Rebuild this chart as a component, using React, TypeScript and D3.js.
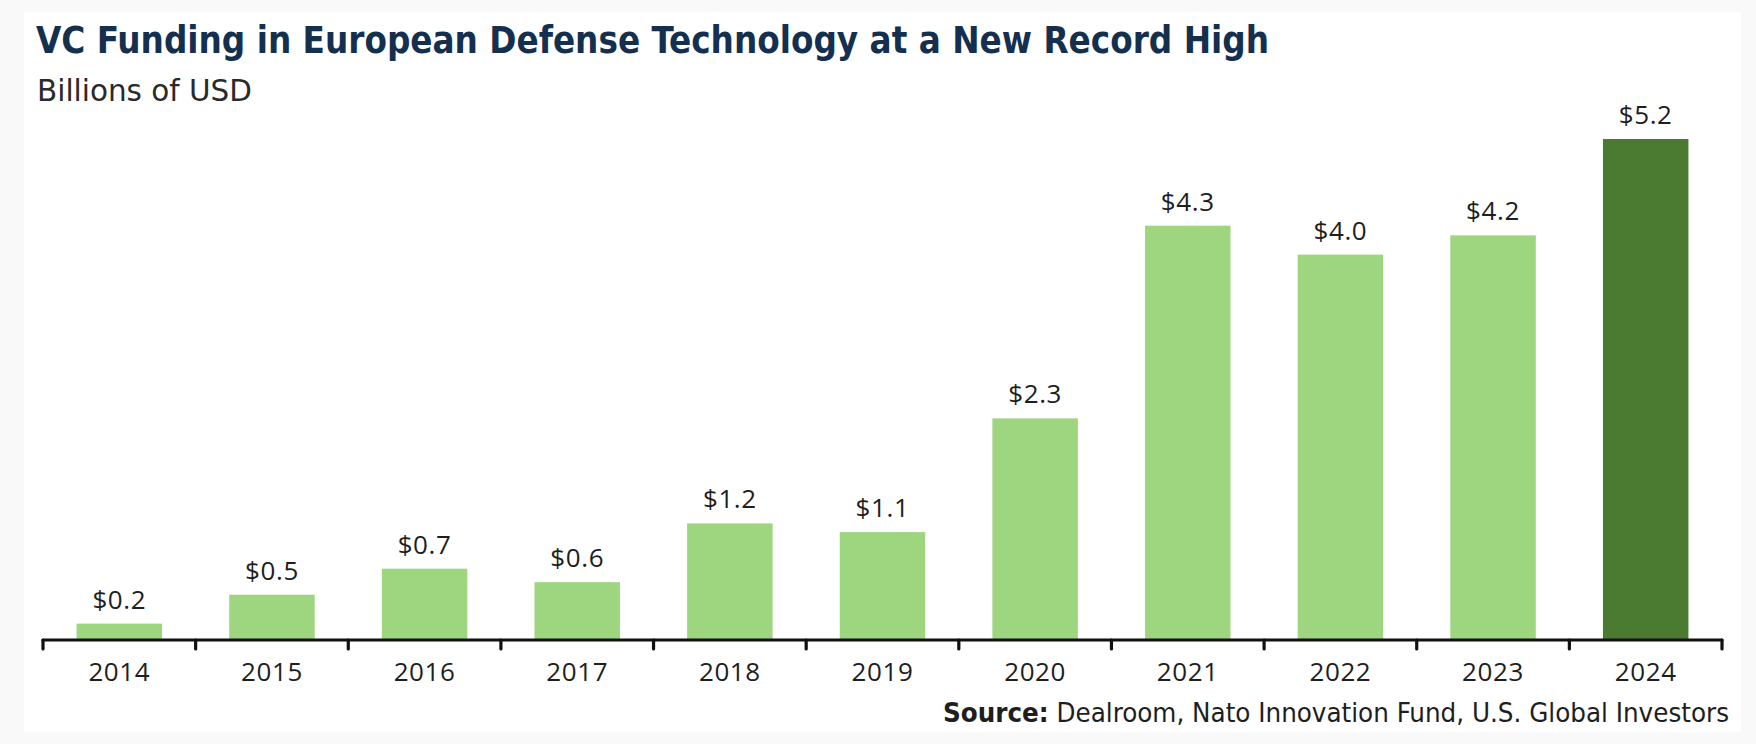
import React from "react";
import * as d3 from "d3";

const years = ["2014", "2015", "2016", "2017", "2018", "2019", "2020", "2021", "2022", "2023", "2024"];
const funding = [0.17, 0.47, 0.74, 0.6, 1.21, 1.12, 2.3, 4.3, 4.0, 4.2, 5.2];
const highlightYear = "2024";

const titleText = "VC Funding in European Defense Technology at a New Record High";
const subtitleText = "Billions of USD";
const sourceLabel = "Source:";
const sourceText = " Dealroom, Nato Innovation Fund, U.S. Global Investors";

const W = 1756;
const H = 744;

export default function App() {
  const axisY = 640;
  const x = d3.scaleBand<string>().domain(years).range([43, 1722]).paddingInner(0.44).paddingOuter(0.22);
  const y = d3.scaleLinear().domain([0, 5.2]).range([axisY, axisY - 501]);
  const fmt = d3.format("$.1f");
  const step = x.step();
  const tickXs = d3.range(years.length + 1).map((i) => 43 + i * step);

  const condensed = "'Liberation Sans Narrow', 'DejaVu Sans Condensed', Roboto, sans-serif";
  const body = "'Open Sans', 'Noto Sans', sans-serif";

  return (
    <svg width={W} height={H} style={{ position: "absolute", left: 0, top: 0, display: "block" }}>
      <rect x={0} y={0} width={W} height={H} fill="#f9f9f9" />
      <rect x={24} y={12} width={1717} height={720} fill="#ffffff" />
      <text x={36} y={53} fontFamily={condensed} fontWeight={700} fontSize={37} fill="#15304f"
        textLength={1233} lengthAdjust="spacingAndGlyphs">{titleText}</text>
      <text x={37} y={101} fontFamily={condensed} fontSize={30} fill="#2a2a2a"
        textLength={215} lengthAdjust="spacingAndGlyphs">{subtitleText}</text>

      {years.map((yr, i) => (
        <rect key={yr} x={x(yr)} y={y(funding[i])} width={x.bandwidth()} height={axisY - y(funding[i])}
          fill={yr === highlightYear ? "#4b7a31" : "#9ed57f"} />
      ))}
      {years.map((yr, i) => (
        <text key={"v" + yr} x={(x(yr) as number) + x.bandwidth() / 2} y={y(funding[i]) - 15}
          textAnchor="middle" fontFamily={body} fontSize={26} letterSpacing={0.6} fill="#1e1e1e">
          {fmt(funding[i])}
        </text>
      ))}

      <line x1={43} x2={1722} y1={axisY} y2={axisY} stroke="#111" strokeWidth={3.2} strokeLinecap="round" />
      {tickXs.map((tx, i) => (
        <line key={"t" + i} x1={tx} x2={tx} y1={axisY} y2={axisY + 9} stroke="#111" strokeWidth={3.2} strokeLinecap="round" />
      ))}
      {years.map((yr) => (
        <text key={"l" + yr} x={(x(yr) as number) + x.bandwidth() / 2} y={681}
          textAnchor="middle" fontFamily={body} fontSize={26} letterSpacing={0.6} fill="#1e1e1e">
          {yr}
        </text>
      ))}

      <text x={1729} y={722} textAnchor="end" fontFamily={condensed} fontSize={27} fill="#1e1e1e"
        textLength={786} lengthAdjust="spacingAndGlyphs">
        <tspan fontWeight={700}>{sourceLabel}</tspan>
        <tspan>{sourceText}</tspan>
      </text>
    </svg>
  );
}
